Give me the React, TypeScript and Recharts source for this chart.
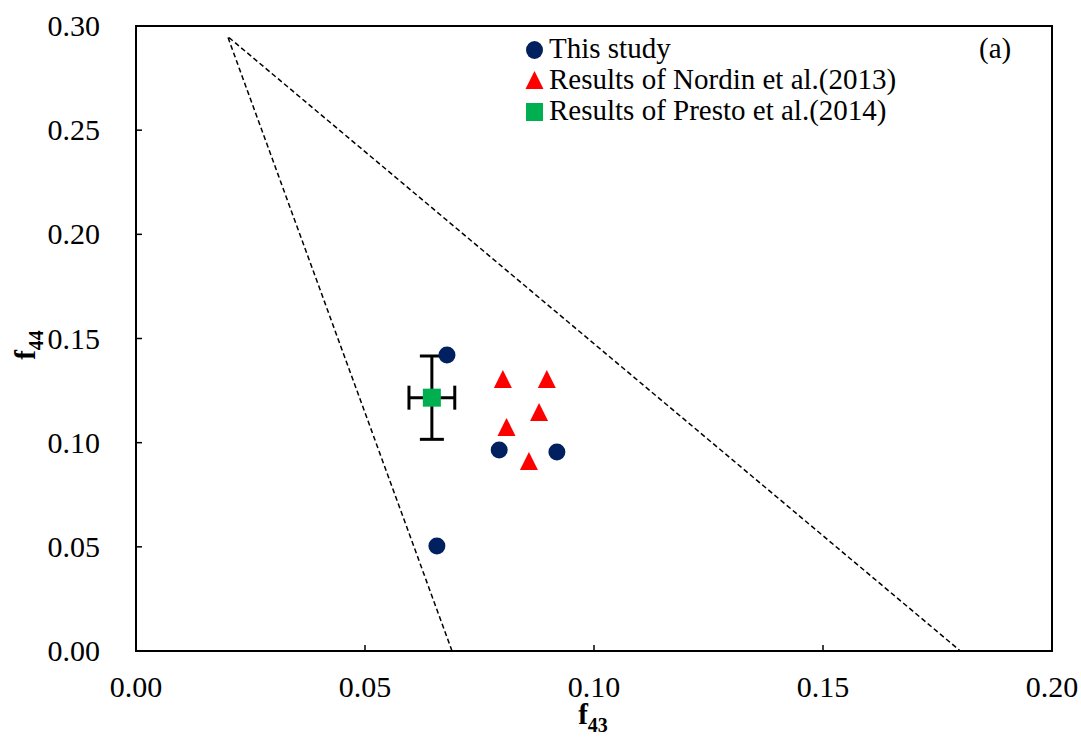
import React from 'react';
import { ScatterChart, Scatter, XAxis, YAxis, ErrorBar, ReferenceArea, Legend } from 'recharts';

// f43 / f44 values
const studyF43 = [0.0679, 0.0793, 0.0919, 0.0657];
const studyF44 = [0.1421, 0.0965, 0.0955, 0.0504];

const nordinF43 = [0.0801, 0.0897, 0.0880, 0.0809, 0.0858];
const nordinF44 = [0.1301, 0.1301, 0.1143, 0.1071, 0.0907];

const prestoF43 = [0.0646];
const prestoF44 = [0.1216];
const prestoErrF43 = [0.005];
const prestoErrF44 = [0.02];

// triangle region (dashed): lower left, apex, lower right
const triF43 = [0.069, 0.02, 0.18];
const triF44 = [0, 0.295, 0];

const xTicks = [0, 0.05, 0.1, 0.15, 0.2];
const yTicks = [0, 0.05, 0.1, 0.15, 0.2, 0.25, 0.3];

const NAVY = '#002060';
const RED = '#FF0000';
const GREEN = '#00B050';
const FONT = '"Liberation Serif", "Times New Roman", serif';

const study = studyF43.map((x, i) => ({ x, y: studyF44[i] }));
const nordin = nordinF43.map((x, i) => ({ x, y: nordinF44[i] }));
const presto = prestoF43.map((x, i) => ({ x, y: prestoF44[i], ex: prestoErrF43[i], ey: prestoErrF44[i] }));
const tri = triF43.map((x, i) => ({ x, y: triF44[i] }));

const Circle = (p: any) => <circle cx={p.cx} cy={p.cy} r={8.5} fill={NAVY} />;
const Tri = (p: any) => (
  <polygon points={`${p.cx},${p.cy - 10} ${p.cx - 9},${p.cy + 8} ${p.cx + 9},${p.cy + 8}`} fill={RED} />
);
const Sq = (p: any) => <rect x={p.cx - 9} y={p.cy - 9} width={18} height={18} fill={GREEN} />;
const NoDot = () => <g />;

const XTick = (p: any) => (
  <g>
    <line x1={p.x} x2={p.x} y1={p.y} y2={p.y - 6} stroke="#000" strokeWidth={1.5} />
    <text x={p.x} y={p.y + 46} textAnchor="middle" fontSize={30} fontFamily={FONT} fill="#000">
      {Number(p.payload.value).toFixed(2)}
    </text>
  </g>
);

const YTick = (p: any) => (
  <g>
    <line x1={p.x} x2={p.x + 6} y1={p.y} y2={p.y} stroke="#000" strokeWidth={1.5} />
    <text x={p.x - 36} y={p.y + 10} textAnchor="end" fontSize={30} fontFamily={FONT} fill="#000">
      {Number(p.payload.value).toFixed(2)}
    </text>
  </g>
);

const LegendBox = () => (
  <svg width={520} height={110} style={{ display: 'block' }}>
    <g fontFamily={FONT} fontSize={29} fill="#000">
      <ellipse cx={14.5} cy={20} rx={8.5} ry={9} fill={NAVY} />
      <text x={29} y={28}>This study</text>
      <polygon points="14.5,41 5.5,59 23.5,59" fill={RED} />
      <text x={29} y={59}>Results of Nordin et al.(2013)</text>
      <rect x={6} y={73} width={17} height={18} fill={GREEN} />
      <text x={29} y={90}>Results of Presto et al.(2014)</text>
      <text x={459} y={28}>(a)</text>
    </g>
  </svg>
);

export default function App() {
  return (
    <div style={{ position: 'absolute', left: 0, top: 0, background: '#fff' }}>
      <ScatterChart width={1081} height={737} margin={{ top: 26, right: 29, bottom: 0, left: 0 }}>
        <XAxis
          type="number"
          dataKey="x"
          domain={[0, 0.2]}
          ticks={xTicks}
          height={86}
          axisLine={false}
          tickLine={false}
          tickSize={0}
          tickMargin={0}
          tick={<XTick />}
          label={{
            content: () => (
              <text x={593} y={724} textAnchor="middle" fontFamily={FONT} fontWeight="bold" fill="#000">
                <tspan fontSize={29}>f</tspan>
                <tspan fontSize={20} dy={8}>43</tspan>
              </text>
            ),
          }}
        />
        <YAxis
          type="number"
          dataKey="y"
          domain={[0, 0.3]}
          ticks={yTicks}
          width={136}
          axisLine={false}
          tickLine={false}
          tickSize={0}
          tickMargin={0}
          tick={<YTick />}
          label={{
            content: () => (
              <text
                x={35}
                y={345}
                transform="rotate(-90, 35, 345)"
                textAnchor="middle"
                fontFamily={FONT}
                fontWeight="bold"
                fill="#000"
              >
                <tspan fontSize={29}>f</tspan>
                <tspan fontSize={20} dy={8}>44</tspan>
              </text>
            ),
          }}
        />
        <ReferenceArea x1={0} x2={0.2} y1={0} y2={0.3} fill="none" fillOpacity={0} stroke="#000" strokeWidth={2} />
        <Scatter
          data={tri}
          shape={NoDot}
          line={{ stroke: '#000', strokeWidth: 1.5, strokeDasharray: '5 3' }}
          legendType="none"
          isAnimationActive={false}
        />
        <Scatter name="Results of Presto et al.(2014)" data={presto} shape={Sq} isAnimationActive={false}>
          <ErrorBar dataKey="ey" direction="y" width={12} stroke="#000" strokeWidth={3} />
          <ErrorBar dataKey="ex" direction="x" width={12} stroke="#000" strokeWidth={3} />
        </Scatter>
        <Scatter name="This study" data={study} shape={Circle} isAnimationActive={false} />
        <Scatter name="Results of Nordin et al.(2013)" data={nordin} shape={Tri} isAnimationActive={false} />
        <Legend
          layout="vertical"
          align="center"
          verticalAlign="middle"
          content={LegendBox}
          wrapperStyle={{ left: 520, top: 30, width: 520 }}
        />
      </ScatterChart>
    </div>
  );
}
